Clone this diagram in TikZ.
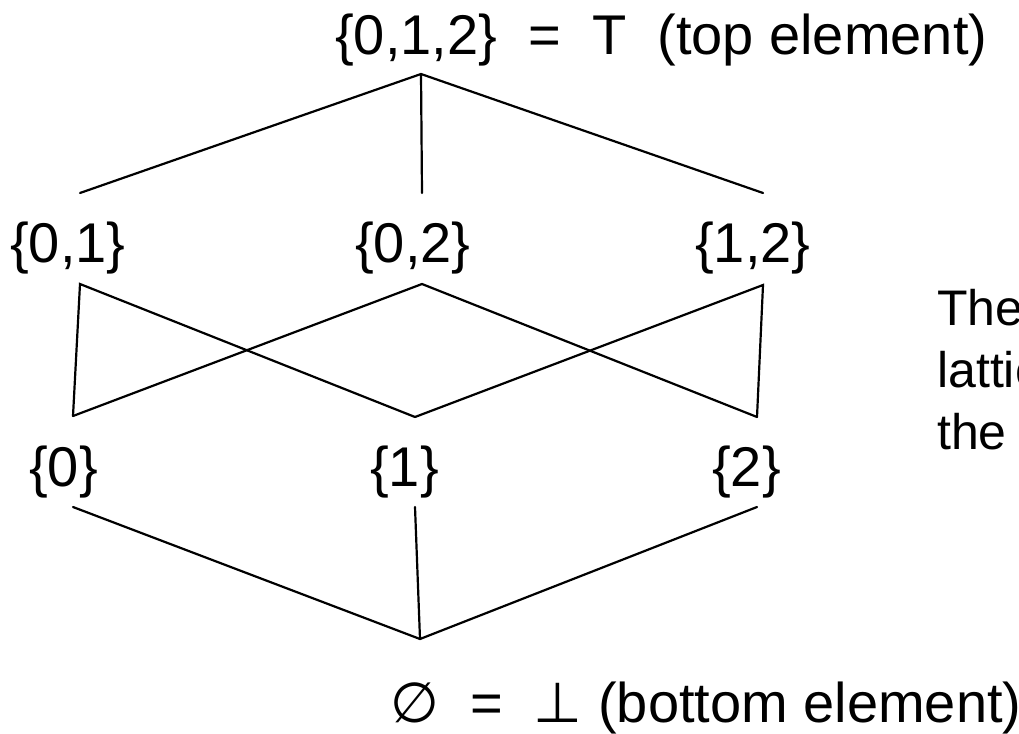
\documentclass[tikz,border=0pt]{standalone}
\usepackage{fontspec}
\setmainfont{Liberation Sans}
\newfontfamily\symf{DejaVu Sans}
\begin{document}
\begin{tikzpicture}[x=1pt,y=-1pt,
  edge/.style={draw=black,line width=2.2pt,line cap=round,line join=miter},
  lbl/.style={inner sep=0pt,anchor=base west,font=\fontsize{56}{67}\selectfont},
  note/.style={inner sep=0pt,anchor=base west,font=\fontsize{50}{62}\selectfont}]
\useasboundingbox (0,0) rectangle (1019,733);
\clip (0,0) rectangle (1019,733);
% labels
\node[lbl] (top) at (335,55) {\{0,1,2\}~~=~~T~~(top element)};
\node[lbl] (s01) at (10,262) {\{0,1\}};
\node[lbl] (s02) at (355,262) {\{0,2\}};
\node[lbl] (s12) at (695,262) {\{1,2\}};
\node[lbl] (s0) at (29,486) {\{0\}};
\node[lbl] (s1) at (370,486) {\{1\}};
\node[lbl] (s2) at (712,486) {\{2\}};
\node[lbl] (bot) at (390,722) {{\symf ∅}~~=~~{\symf ⊥} (bottom element)};
\node[note] (txt1) at (937,325) {The};
\node[note] (txt2) at (937,387) {lattic};
\node[note] (txt3) at (937,449) {the};
% vertices
\coordinate (T) at (421,74);
\coordinate (t0) at (80,193);
\coordinate (t1) at (422,193);
\coordinate (t2) at (763,193);
\coordinate (a01) at (80,284);
\coordinate (a02) at (422,284);
\coordinate (a12) at (763,285);
\coordinate (b0) at (73,416);
\coordinate (b1) at (415,417);
\coordinate (b2) at (757,417);
\coordinate (c0) at (73,507);
\coordinate (c1) at (415,507);
\coordinate (c2) at (757,507);
\coordinate (B) at (420,639);
% edges
\draw[edge] (t0) -- (T) -- (t2);
\draw[edge] (T) -- (t1);
\draw[edge] (b0) -- (a01) -- (b1);
\draw[edge] (b0) -- (a02) -- (b2);
\draw[edge] (b1) -- (a12) -- (b2);
\draw[edge] (c0) -- (B) -- (c2);
\draw[edge] (c1) -- (B);
\end{tikzpicture}
\end{document}
